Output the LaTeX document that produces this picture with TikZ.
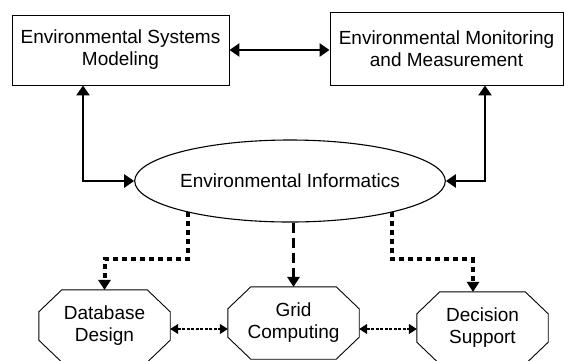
\documentclass[tikz,border=0pt]{standalone}
\usepackage{fontspec}
\setmainfont{Liberation Sans}
\usepackage{tikz}
\usetikzlibrary{arrows.meta, shapes.geometric}
\usetikzlibrary{positioning}

\begin{document}
\begin{tikzpicture}[x=1pt,y=-1pt]

\tikzset{
  % rectangular boxes on top
  topbox/.style={draw, line width=0.9pt, align=center, inner sep=0pt,
    font=\fontsize{19}{22}\selectfont},
  % the ellipse in the middle
  midoval/.style={draw, ellipse, line width=1.1pt, inner sep=0pt,
    minimum width=274pt, minimum height=82pt,
    font=\fontsize{19}{22}\selectfont},
  % the octagons at the bottom (outline drawn below)
  octa/.style={rectangle, align=center, inner sep=0pt,
    minimum width=131pt, minimum height=72pt,
    font=\fontsize{19}{22}\selectfont},
  octline/.style={line width=0.9pt, line join=miter},
  % thick solid links
  bold link/.style={line width=2.6pt,
    {Triangle[length=10pt,width=13pt]}-{Triangle[length=10pt,width=13pt]}},
  % thick dotted links
  dot link/.style={line width=4pt, dash pattern=on 5pt off 4pt,
    -{Triangle[length=10pt,width=13pt,line width=0pt]}},
  dash link/.style={line width=3pt, dash pattern=on 10pt off 5pt,
    -{Triangle[length=10pt,width=13pt,line width=0pt]}},
  % thin links between octagons
  thin link/.style={line width=1.1pt, dash pattern=on 3pt off 1.5pt,
    {Triangle[length=8pt,width=10pt]}-{Triangle[length=8pt,width=10pt]}},
}

\useasboundingbox (0,0) rectangle (564,360);

\node[topbox, minimum width=217pt, minimum height=70pt] (esm) at (120.5,50)
    {Environmental Systems\\Modeling};
\node[topbox, minimum width=233pt, minimum height=73pt] (emm) at (446.5,48.5)
    {Environmental Monitoring\\and Measurement};
\node[midoval] (ei) at (290,181) {Environmental Informatics};

\node[octa] (dbd) at (104.5,326) {Database\\Design};
\node[octa] (grid) at (293.5,323) {Grid\\Computing};
\node[octa] (dss) at (482.5,328) {Decision\\Support};

% octagon outlines
\foreach \n in {dbd, grid, dss}
  \draw[octline] ([xshift=23pt]\n.north west) -- ([xshift=-23pt]\n.north east)
    -- ([yshift=-22pt]\n.north east) -- ([yshift=22pt]\n.south east)
    -- ([xshift=-23pt]\n.south east) -- ([xshift=23pt]\n.south west)
    -- ([yshift=22pt]\n.south west) -- ([yshift=-22pt]\n.north west) -- cycle;

% solid arrows
\draw[bold link] (esm.east) -- (esm.east -| emm.west);
\draw[bold link] ([xshift=-37.5pt]esm.south) |- (ei.west);
\draw[bold link] ([xshift=38.5pt]emm.south) |- (ei.east);

% dotted and dashed arrows
\draw[dot link] (ei.197) -- ++(0,47) -| (dbd.north);
\draw[dot link] (ei.343) -- ++(0,47) -| ([xshift=-9.5pt]dss.north);
\draw[dash link] (ei.south -| grid.north) -- (grid.north);

\draw[thin link] (dbd.east |- 0,329) -- (grid.west |- 0,329);
\draw[thin link] (grid.east |- 0,329) -- (dss.west |- 0,329);

\end{tikzpicture}
\end{document}
